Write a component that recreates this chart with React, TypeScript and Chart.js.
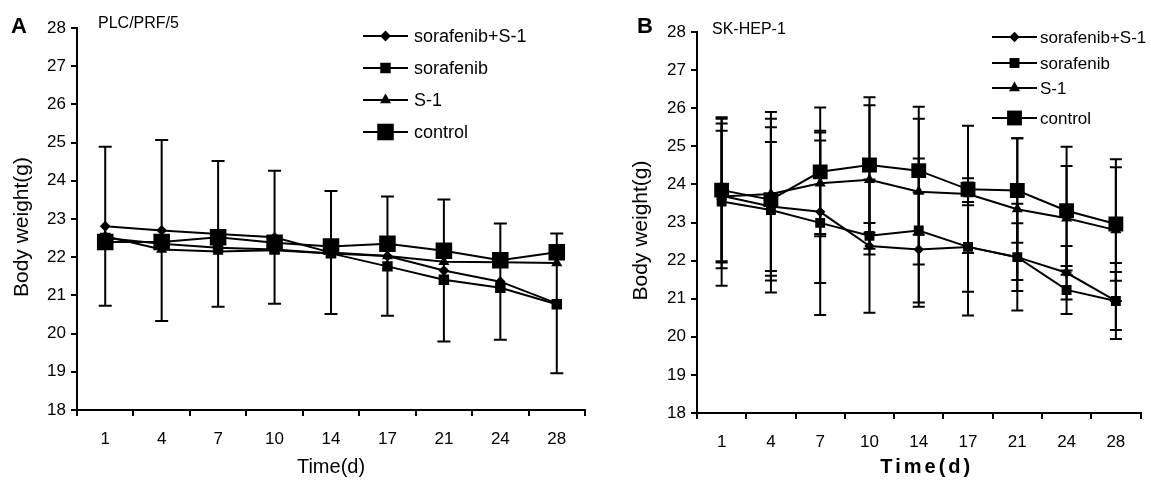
import React, { useEffect, useRef } from 'react';
import { Chart, registerables } from 'chart.js';
Chart.register(...registerables);

const FONT = "'Liberation Sans', Arial, sans-serif";

const days = ['1', '4', '7', '10', '14', '17', '21', '24', '28'];
const seriesNames = ['sorafenib+S-1', 'sorafenib', 'S-1', 'control'];

// Panel A: PLC/PRF/5
const aCombo = [22.81, 22.7, 22.61, 22.52, 22.12, 22.03, 21.65, 21.36, 20.79];
const aComboSd = [2.08, 2.37, 1.91, 1.74, 1.61, 1.56, 1.86, 1.52, 1.83];
const aSorafenib = [22.5, 22.35, 22.25, 22.2, 22.1, 21.76, 21.41, 21.2, 20.77];
const aS1 = [22.55, 22.2, 22.15, 22.18, 22.1, 22.03, 21.88, 21.87, 21.85];
const aControl = [22.4, 22.4, 22.52, 22.38, 22.28, 22.35, 22.17, 21.92, 22.13];

// Panel B: SK-HEP-1
const bCombo = [23.7, 23.42, 23.28, 22.38, 22.29, 22.36, 22.09, 21.68, 20.94];
const bComboSd = [1.9, 1.69, 1.87, 1.75, 1.5, 1.18, 0.89, 0.7, 1.0];
const bSorafenib = [23.55, 23.33, 22.99, 22.65, 22.79, 22.36, 22.09, 21.23, 20.94];
const bSorafenibSd = [2.21, 2.17, 2.42, 0.34, 1.89, 1.8, 1.4, 0.63, 0.76];
const bS1 = [23.68, 23.75, 24.03, 24.12, 23.81, 23.75, 23.35, 23.11, 22.8];
const bS1Sd = [1.73, 2.15, 1.33, 1.96, 1.91, 0.3, 1.86, 1.37, 1.86];
const bControl = [23.85, 23.6, 24.33, 24.51, 24.36, 23.87, 23.84, 23.31, 22.96];
const bControlSd = [1.87, 2.12, 1.69, 1.78, 1.68, 1.67, 1.37, 1.68, 1.49];

const yMin = 18;
const yMax = 28;

type Marker = { style: string; radius: number };

function drawMarker(ctx: CanvasRenderingContext2D, m: Marker, x: number, y: number) {
  ctx.beginPath();
  const r = m.radius;
  if (m.style === 'rect') {
    const s = Math.SQRT1_2 * r;
    ctx.rect(x - s, y - s, 2 * s, 2 * s);
  } else if (m.style === 'rectRot') {
    ctx.moveTo(x, y - r);
    ctx.lineTo(x + r, y);
    ctx.lineTo(x, y + r);
    ctx.lineTo(x - r, y);
    ctx.closePath();
  } else if (m.style === 'triangle') {
    ctx.moveTo(x, y - r);
    ctx.lineTo(x + r * Math.sin((2 * Math.PI) / 3), y + r * 0.5);
    ctx.lineTo(x - r * Math.sin((2 * Math.PI) / 3), y + r * 0.5);
    ctx.closePath();
  }
  ctx.fillStyle = '#000';
  ctx.fill();
}

type PanelCfg = {
  letter: string;
  subtitle: string;
  values: number[][];
  sds: (number[] | null)[];
  markers: Marker[];
  width: number;
  pad: { top: number; right: number };
  yAxisWidth: number;
  xAxisHeight: number;
  yTitleX: number;
  letterX: number;
  subtitleX: number;
  subtitleY: number;
  legend: { lineX0: number; lineX1: number; textX: number; rows: number[]; font: number };
  xTitleFont: string;
  xTitleSpacing: string;
  xTitleShift: number;
  capHalf: number;
};

function makeChart(canvas: HTMLCanvasElement, cfg: PanelCfg) {
  const datasets = cfg.values.map((vals, i) => ({
    label: seriesNames[i],
    data: vals,
    borderColor: '#000',
    backgroundColor: '#000',
    borderWidth: 2,
    pointStyle: cfg.markers[i].style,
    pointRadius: cfg.markers[i].radius,
    pointBorderWidth: 0,
    pointBackgroundColor: '#000',
    pointBorderColor: '#000',
    tension: 0,
    fill: false,
    order: i === 3 ? 0 : 4 - i,
  }));

  const errorBars = {
    id: 'errorBars',
    beforeDatasetsDraw(chart: any) {
      const ctx = chart.ctx;
      const xs = chart.scales.x;
      const ys = chart.scales.y;
      ctx.save();
      ctx.strokeStyle = '#000';
      ctx.lineWidth = 2;
      cfg.sds.forEach((sd, si) => {
        if (!sd) return;
        cfg.values[si].forEach((v, i) => {
          const x = xs.getPixelForValue(i);
          const yT = ys.getPixelForValue(v + sd[i]);
          const yB = ys.getPixelForValue(v - sd[i]);
          ctx.beginPath();
          ctx.moveTo(x, yT);
          ctx.lineTo(x, yB);
          ctx.moveTo(x - cfg.capHalf, yT);
          ctx.lineTo(x + cfg.capHalf, yT);
          ctx.moveTo(x - cfg.capHalf, yB);
          ctx.lineTo(x + cfg.capHalf, yB);
          ctx.stroke();
        });
      });
      ctx.restore();
    },
  };

  const decorations = {
    id: 'decorations',
    afterDraw(chart: any) {
      const ctx = chart.ctx;
      const area = chart.chartArea;
      ctx.save();
      ctx.fillStyle = '#000';
      ctx.font = `bold 22px ${FONT}`;
      ctx.textAlign = 'left';
      ctx.textBaseline = 'alphabetic';
      ctx.fillText(cfg.letter, cfg.letterX, 33);
      ctx.font = `16px ${FONT}`;
      ctx.fillText(cfg.subtitle, cfg.subtitleX, cfg.subtitleY);
      ctx.save();
      ctx.translate(cfg.yTitleX, (area.top + area.bottom) / 2 + 8);
      ctx.rotate(-Math.PI / 2);
      ctx.font = `21px ${FONT}`;
      ctx.textAlign = 'center';
      ctx.textBaseline = 'middle';
      ctx.fillText('Body weight(g)', 0, 0);
      ctx.restore();
      ctx.font = cfg.xTitleFont;
      (ctx as any).letterSpacing = cfg.xTitleSpacing;
      ctx.textAlign = 'center';
      ctx.textBaseline = 'middle';
      ctx.fillText('Time(d)', (area.left + area.right) / 2 + cfg.xTitleShift, 467);
      (ctx as any).letterSpacing = '0px';
      const lg = cfg.legend;
      ctx.font = `${lg.font}px ${FONT}`;
      ctx.textAlign = 'left';
      ctx.textBaseline = 'middle';
      ctx.strokeStyle = '#000';
      ctx.lineWidth = 2;
      seriesNames.forEach((name, i) => {
        const y = lg.rows[i];
        ctx.beginPath();
        ctx.moveTo(lg.lineX0, y);
        ctx.lineTo(lg.lineX1, y);
        ctx.stroke();
        drawMarker(ctx, cfg.markers[i], (lg.lineX0 + lg.lineX1) / 2, y);
        ctx.fillStyle = '#000';
        ctx.fillText(name, lg.textX, y + 1);
      });
      ctx.restore();
    },
  };

  return new Chart(canvas, {
    type: 'line',
    data: { labels: days, datasets: datasets as any },
    plugins: [errorBars, decorations],
    options: {
      responsive: false,
      animation: false,
      layout: { padding: { top: cfg.pad.top, right: cfg.pad.right, left: 0, bottom: 0 } },
      plugins: { legend: { display: false }, tooltip: { enabled: false } },
      scales: {
        x: {
          type: 'category',
          offset: true,
          grid: {
            offset: true,
            drawOnChartArea: false,
            color: '#000',
            lineWidth: 2,
            tickLength: 6,
          },
          border: { display: true, color: '#000', width: 2 },
          ticks: { color: '#000', font: { family: FONT, size: 17 }, padding: 13, maxRotation: 0 },
          afterFit: (s: any) => {
            s.height = cfg.xAxisHeight;
          },
        },
        y: {
          min: yMin,
          max: yMax,
          grid: { drawOnChartArea: false, color: '#000', lineWidth: 2, tickLength: 6 },
          border: { display: true, color: '#000', width: 2 },
          ticks: { stepSize: 1, color: '#000', font: { family: FONT, size: 17 }, padding: 5 },
          afterFit: (s: any) => {
            s.width = cfg.yAxisWidth;
          },
        },
      },
    },
  });
}

const panelA: PanelCfg = {
  letter: 'A',
  subtitle: 'PLC/PRF/5',
  values: [aCombo, aSorafenib, aS1, aControl],
  sds: [aComboSd, null, null, null],
  markers: [
    { style: 'rectRot', radius: 5.4 },
    { style: 'rect', radius: 7.4 },
    { style: 'triangle', radius: 6.4 },
    { style: 'rect', radius: 11.7 },
  ],
  width: 600,
  pad: { top: 28, right: 15 },
  yAxisWidth: 77,
  xAxisHeight: 70,
  yTitleX: 22,
  letterX: 11,
  subtitleX: 98,
  subtitleY: 28,
  legend: { lineX0: 363, lineX1: 408, textX: 414, rows: [36, 68, 100, 132], font: 18 },
  xTitleFont: `20px ${FONT}`,
  xTitleSpacing: '0px',
  xTitleShift: 0,
  capHalf: 6.5,
};

const panelB: PanelCfg = {
  letter: 'B',
  subtitle: 'SK-HEP-1',
  values: [bCombo, bSorafenib, bS1, bControl],
  sds: [bComboSd, bSorafenibSd, bS1Sd, bControlSd],
  markers: [
    { style: 'rectRot', radius: 5.2 },
    { style: 'rect', radius: 7 },
    { style: 'triangle', radius: 6.4 },
    { style: 'rect', radius: 10.5 },
  ],
  width: 551,
  pad: { top: 32, right: 6 },
  yAxisWidth: 97,
  xAxisHeight: 67,
  yTitleX: 41,
  letterX: 37,
  subtitleX: 112,
  subtitleY: 34,
  legend: { lineX0: 392, lineX1: 437, textX: 440, rows: [37, 63, 88, 118], font: 17 },
  xTitleFont: `bold 20px ${FONT}`,
  xTitleSpacing: '3px',
  xTitleShift: 8,
  capHalf: 6,
};

function Panel({ cfg, left }: { cfg: PanelCfg; left: number }) {
  const ref = useRef<HTMLCanvasElement>(null);
  useEffect(() => {
    if (!ref.current) return;
    const chart = makeChart(ref.current, cfg);
    return () => chart.destroy();
  }, [cfg]);
  return (
    <canvas
      ref={ref}
      width={cfg.width}
      height={480}
      style={{ position: 'absolute', left, top: 0, width: cfg.width, height: 480 }}
    />
  );
}

export default function App() {
  return (
    <div style={{ position: 'fixed', left: 0, top: 0, width: 1151, height: 480, background: '#fff' }}>
      <Panel cfg={panelA} left={0} />
      <Panel cfg={panelB} left={600} />
    </div>
  );
}
